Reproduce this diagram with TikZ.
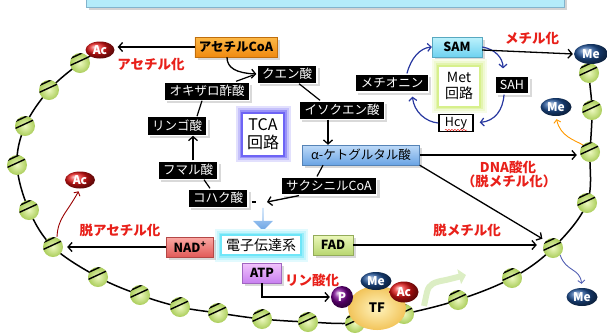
\documentclass[tikz,border=0pt]{standalone}
\usepackage{fontspec}
\setmainfont{Noto Sans CJK JP}
\usepackage{tikz}
\usetikzlibrary{arrows.meta}
\usetikzlibrary{shadows}
\usetikzlibrary{shapes.geometric}
\usetikzlibrary{shapes.arrows}
\usetikzlibrary{decorations.pathmorphing}

\definecolor{redlab}{RGB}{232,32,26}
\definecolor{nucin}{RGB}{236,248,190}
\definecolor{nucout}{RGB}{170,205,90}
\definecolor{mecol}{RGB}{30,80,150}
\definecolor{accol}{RGB}{225,20,20}
\definecolor{metblue}{RGB}{40,56,160}
\definecolor{acoaA}{RGB}{252,184,70}
\definecolor{acoaB}{RGB}{240,138,16}
\definecolor{samA}{RGB}{190,242,252}
\definecolor{samB}{RGB}{110,210,240}
\definecolor{akgA}{RGB}{190,218,248}
\definecolor{akgB}{RGB}{106,164,228}
\definecolor{nadA}{RGB}{250,170,165}
\definecolor{nadB}{RGB}{225,90,88}
\definecolor{fadA}{RGB}{236,248,186}
\definecolor{fadB}{RGB}{184,214,112}
\definecolor{atpA}{RGB}{242,196,252}
\definecolor{atpB}{RGB}{200,128,240}
\definecolor{tcaglow}{RGB}{110,100,245}
\definecolor{metglow}{RGB}{215,240,140}
\definecolor{etcglow}{RGB}{110,230,248}

\begin{document}
\begin{tikzpicture}[x=1pt,y=1pt,font=\fontsize{12.5}{13}\selectfont]
		\tikzset{blk/.style = {fill=black, text=white, draw=white, line width=1.2pt, inner xsep=5pt, minimum height=18pt, drop shadow={opacity=0.3}}}
		\tikzset{cbox/.style 2 args = {top color=#1, bottom color=#2, draw=#2!80!black, line width=0.4pt, minimum height=20pt, inner xsep=4pt, drop shadow={opacity=0.3}}}
		\tikzset{glowbox/.style = {fill=white, draw=#1, line width=2pt, align=center, preaction={draw=#1!20, line width=13pt}, preaction={draw=#1!40, line width=9pt}, preaction={draw=#1!70, line width=5pt}}}
		\tikzset{redtxt/.style = {text=redlab, font=\fontsize{13.5}{15}\selectfont\bfseries}}
		\tikzset{nuc/.style = {circle, minimum size=20pt, inner sep=0pt, inner color=nucin, outer color=nucout,
				path picture={
					\draw[line width=1.4pt] ([shift={(-13pt,3pt)}]path picture bounding box.center) -- ++(26pt,12pt);
					\draw[line width=1.4pt] ([shift={(-11pt,-3pt)}]path picture bounding box.center) -- ++(26pt,12pt);}}}
		\tikzset{blob/.style = {ellipse, inner sep=0pt, minimum width=31pt, minimum height=18pt, ball color=#1, text=white, font=\fontsize{12}{13}\selectfont\bfseries}}
		\tikzset{arr/.style = {line width=1.3pt, -{Straight Barb[length=4pt,width=9pt]}}}
		\tikzset{ln/.style = {line width=1.2pt}}
		\tikzset{barr/.style = {metblue, line width=1.2pt, -{Straight Barb[length=3.5pt,width=8pt]}}}
		\clip (0,0) rectangle (607,-333);
		\useasboundingbox (0,0) rectangle (607,-333);
		% banner
		\draw[fill={rgb,255:red,180;green,236;blue,250}, draw={rgb,255:red,130;green,180;blue,205}, drop shadow={opacity=0.35}] (86,12) rectangle (564,-7);
		% chromatin
		\foreach \name/\x/\y in {n1/80/63, n2/49/90, n3/25/126, n4/17/165, n5/29/210, n6/53/247, n7/98/277,
			n8/140/295, n9/180/307, n10/218/313, n11/262/319, n12/308/322, n13/355/323, n14/404/314,
			n15/458/300, n16/512/278, n17/553/248, n18/587/203, n19/590/152, n20/592/110, n21/589/73}
			\coordinate (c\name) at (\x,-\y);
		\coordinate (cstart) at (100,-50);
		\coordinate (cend) at (591,-54);
		\draw[line width=1.5pt] plot[smooth, tension=0.6] coordinates {(cstart) (cn1) (cn2) (cn3) (cn4) (cn5) (cn6) (cn7) (cn8) (cn9) (cn10)
			(cn11) (cn12) (cn13) (cn14) (cn15) (cn16) (cn17) (cn18) (cn19) (cn20) (cn21) (cend)};
		% start of transcription
		\draw[line width=6pt, draw={rgb,255:red,220;green,238;blue,196}, -{Triangle[length=7pt,width=15pt]}]
			(424,-306) -- (427,-292) .. controls (429,-284) and (434,-282) .. (446,-280) -- (466,-275);
		\foreach \i in {1,...,21}
			\node[nuc] (n\i) at (cn\i) {};
		% transcription factor
		\node[ellipse, minimum width=58pt, minimum height=44pt, inner color={rgb,255:red,255;green,244;blue,190}, outer color={rgb,255:red,242;green,196;blue,90}, font=\fontsize{13}{14}\selectfont\bfseries] (tf) at (377,-308) {TF};
		\node[circle, minimum size=22pt, inner sep=0pt, ball color=violet!90!blue, text=white, font=\fontsize{12}{13}\selectfont\bfseries] (p) at (342,-297) {P};
		\node[blob=mecol] (me4) at (376,-281) {Me};
		\node[blob=accol, minimum width=29pt, minimum height=21pt] (ac3) at (404,-292) {Ac};
		% acetyl, methyl groups
		\node[blob=accol, minimum width=29pt, minimum height=17pt] (ac1) at (100,-50) {Ac};
		\node[blob=accol, minimum width=30pt, minimum height=17pt] (ac2) at (80,-180) {Ac};
		\node[blob=mecol, minimum width=34pt, minimum height=20pt] (me1) at (591,-54) {Me};
		\node[blob=mecol] (me2) at (556,-107) {Me};
		\node[blob=mecol] (me3) at (582,-297) {Me};
		% TCA cycle
		\node[cbox={acoaA}{acoaB}, font=\fontsize{12.5}{13}\selectfont\bfseries] (acoa) at (236,-47) {アセチルCoA};
		\node[blk] (cit) at (287,-74) {クエン酸};
		\node[blk] (oxa) at (207,-91) {オキザロ酢酸};
		\node[blk] (iso) at (342,-110) {イソクエン酸};
		\node[blk] (mal) at (177,-126) {リンゴ酸};
		\node[blk] (fum) at (188,-170) {フマル酸};
		\node[blk] (suc) at (218,-198) {コハク酸};
		\node[blk] (sca) at (329,-186) {サクシニルCoA};
		\node[cbox={akgA}{akgB}, minimum width=117pt] (akg) at (361,-155) {α-ケトグルタル酸};
		\node[glowbox=tcaglow, minimum width=42pt, minimum height=43pt, font=\fontsize{16}{18}\selectfont] (tca) at (263,-134) {TCA\\回路};
		% Met cycle
		\node[cbox={samA}{samB}, minimum width=50pt, font=\fontsize{12.5}{13}\selectfont\bfseries] (sam) at (457,-47) {SAM};
		\node[glowbox=metglow, minimum width=42pt, minimum height=41pt, font=\fontsize{14}{16}\selectfont] (metc) at (459,-86) {Met\\回路};
		\node[blk] (met) at (392,-83) {メチオニン};
		\node[blk] (sah) at (512,-85) {SAH};
		\node[fill=white, draw=black, line width=1.5pt, minimum width=34pt, minimum height=17pt, inner sep=1pt] (hcy) at (456,-123) {Hcy};
		\draw[redlab, line width=0.5pt, decorate, decoration={snake, amplitude=0.6pt, segment length=3pt}] (445,-130) -- (467,-130);
		% electron transport
		\node[single arrow, shape border rotate=270, minimum height=23pt, minimum width=20pt, single arrow head extend=3pt, inner sep=0pt, top color=akgA, bottom color=akgB] (down) at (263,-219) {};
		\node[glowbox=etcglow, minimum width=80pt, minimum height=20pt, font=\fontsize{14}{15}\selectfont] (etc) at (261,-245) {電子伝達系};
		\node[cbox={nadA}{nadB}, minimum width=47pt, font=\fontsize{12.5}{13}\selectfont\bfseries] (nad) at (190,-247) {NAD\textsuperscript{+}};
		\node[cbox={fadA}{fadB}, minimum width=40pt, font=\fontsize{12.5}{13}\selectfont\bfseries] (fad) at (333,-245) {FAD};
		\node[cbox={atpA}{atpB}, minimum width=39pt, font=\fontsize{12.5}{13}\selectfont\bfseries] (atp) at (262,-273) {ATP};
		% labels
		\node[redtxt] (l1) at (151,-64) {アセチル化};
		\node[redtxt] (l2) at (120,-230) {脱アセチル化};
		\node[redtxt] (l3) at (532,-38) {メチル化};
		\node[redtxt] (l4) at (508,-167) {DNA酸化};
		\node[redtxt] (l5) at (509,-181) {（脱メチル化）};
		\node[redtxt] (l6) at (467,-230) {脱メチル化};
		\node[redtxt] (l7) at (312,-280) {リン酸化};
		% edges
		\draw[arr, shorten >=3pt] (acoa.west) -- (acoa.west -| ac1.east);
		\draw[arr] ([xshift=-9pt]acoa.south) .. controls (227,-68) and (236,-73) .. (cit.west);
		\draw[ln] ([xshift=-14pt]oxa.north east) -- ([xshift=-3pt,yshift=-1pt]cit.west);
		\draw[ln] ([xshift=12pt]cit.south) -- ([xshift=-22pt]iso.north);
		\draw[arr] ([xshift=-14pt]iso.south) -- ([xshift=-14pt]iso.south |- akg.north);
		\draw[ln] ([xshift=-38pt]akg.south) -- ([xshift=-12pt]sca.north);
		\coordinate (sucend) at (267,-202);
		\draw[arr] ([xshift=-30pt]sca.south) -- (sucend);
		\draw[ln] ([xshift=3pt,yshift=-4pt]suc.east) -- ++(4pt,0);
		\draw[ln] ([xshift=-8pt]suc.north) -- ([xshift=16pt]fum.south);
		\draw[arr] ([xshift=5pt]fum.north) -- ([xshift=5pt]fum.north |- mal.south);
		\draw[ln] ([xshift=20pt]mal.north) -- ([xshift=-5pt]oxa.south);
		\draw[barr] ([xshift=15pt]met.north) .. controls (411,-58) and (420,-48) .. (sam.west);
		\draw[barr, shorten >=7pt] (sam.east) .. controls (495,-49) and (503,-58) .. ([xshift=-9pt]sah.north);
		\draw[barr, shorten >=6pt] ([xshift=-8pt]sah.south) .. controls (503,-110) and (495,-121) .. (hcy.east);
		\draw[barr, shorten >=4pt] (hcy.west) .. controls (426,-122) and (414,-112) .. ([xshift=20pt]met.south);
		\draw[arr, shorten >=1pt] ([yshift=-3pt]sam.east) -- (me1.west);
		\draw[arr, shorten >=3pt] (akg.east) -- (akg.east -| n19.west);
		\draw[arr, shorten >=4pt] (akg.south east) -- (n17.north west);
		\draw[arr, shorten >=6pt] (fad.east) -- (fad.east -| n17.west);
		\draw[arr, shorten >=4pt] (nad.west) -- (nad.west -| n6.east);
		\draw[arr, shorten >=1pt] (atp.south) |- (p.west);
		\draw[red!60!black, line width=0.9pt, -{Straight Barb[length=3pt,width=7pt]}, shorten >=3pt] ([xshift=4pt]n6.north) .. controls (58,-218) and (66,-214) .. (ac2.south);
		\draw[orange!80!yellow, line width=0.9pt, -{Straight Barb[length=3pt,width=7pt]}, shorten >=3pt] (n19.north west) .. controls (574,-140) and (560,-136) .. (me2.south);
		\draw[metblue!80, line width=0.9pt, -{Straight Barb[length=3pt,width=7pt]}, shorten >=4pt] (n17.south east) .. controls (566,-272) and (580,-268) .. (me3.north);
\end{tikzpicture}
\end{document}
